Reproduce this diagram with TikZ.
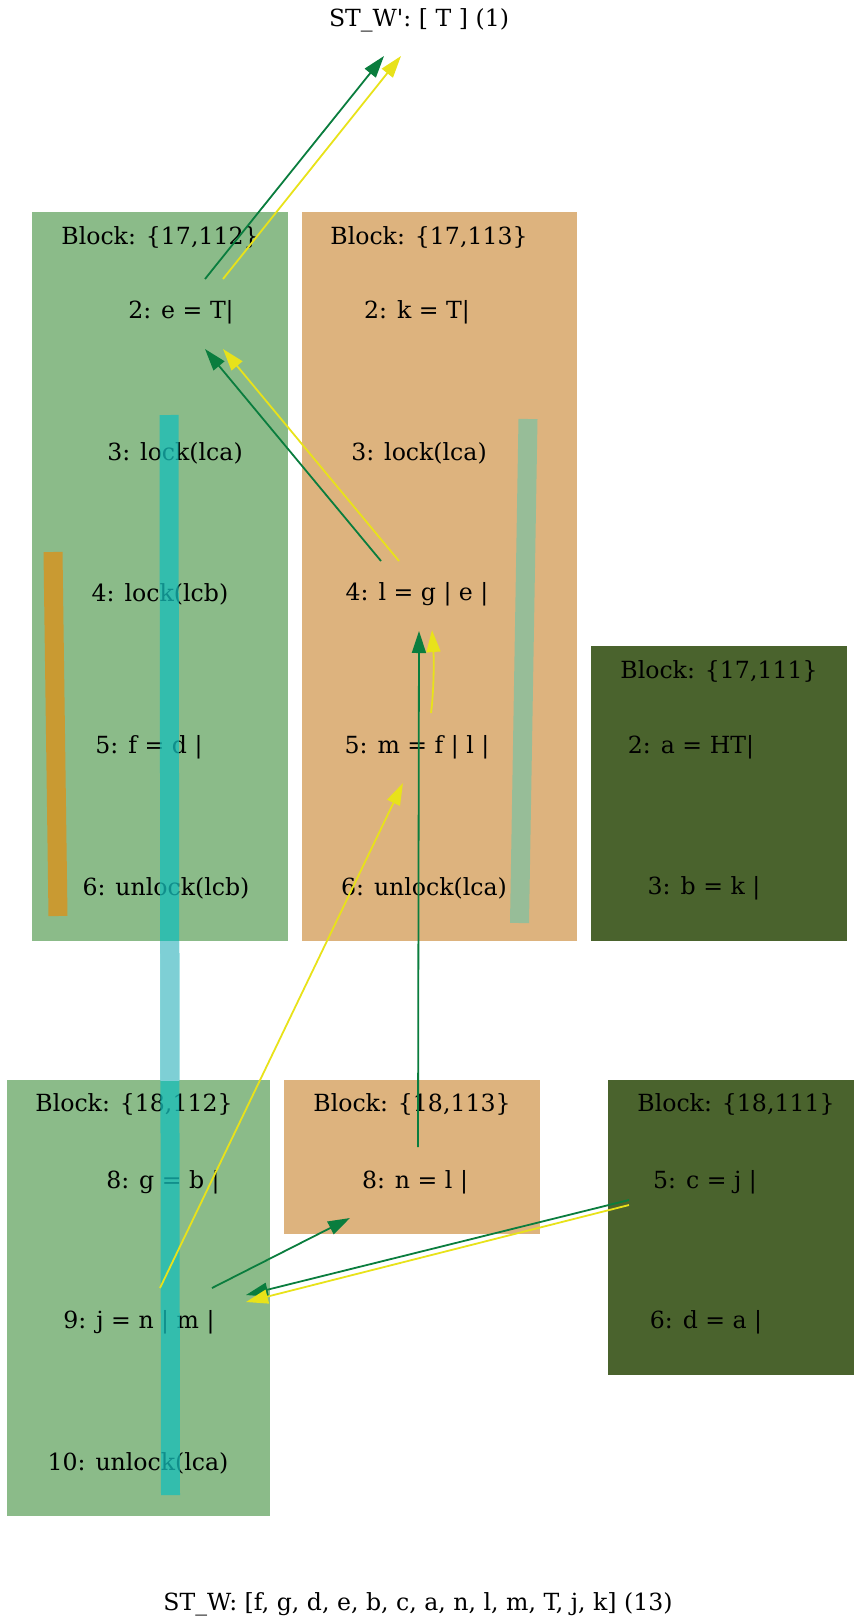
\documentclass[tikz,border=0pt]{standalone}
\usepackage{fontspec}
\setmainfont{DejaVu Serif}
\usetikzlibrary{arrows.meta}
\definecolor{blkgreen}{HTML}{8BBB89}
\definecolor{blkorange}{HTML}{DDB37E}
\definecolor{blkdark}{HTML}{4A632D}
\definecolor{edgegreen}{HTML}{0A7D3E}
\definecolor{edgeyellow}{HTML}{E8E21A}
\definecolor{barteal}{RGB}{22,190,186}
\definecolor{bartealout}{HTML}{7ECFD5}
\definecolor{barorange}{HTML}{C99A32}
\definecolor{barsage}{HTML}{97BD98}
\tikzset{
  lbl/.style={inner sep=0pt, font=\fontsize{23.6}{28}\selectfont, text=black},
  ge/.style={draw=edgegreen, line width=1.8pt, -{Triangle[length=22pt,width=14pt]}},
  ye/.style={draw=edgeyellow, line width=1.8pt, -{Triangle[length=22pt,width=14pt]}},
  lockbar/.style={line width=19pt, line cap=butt}
}
\begin{document}
\begin{tikzpicture}[x=1pt,y=-1pt]
\useasboundingbox (0,0) rectangle (854,1621);
% blocks
\fill[blkgreen]  (32,212) rectangle (288,941);
\fill[blkorange] (302,212) rectangle (577,941);
\fill[blkdark]   (591,646) rectangle (847,941);
\fill[blkgreen]  (6.5,1080) rectangle (270,1516);
\fill[blkorange] (284,1080) rectangle (540,1234);
\fill[blkdark]   (608,1080) rectangle (854,1375);
% texts
\node[lbl] (title) at (419,20) {ST\_W\textquotesingle: [ T ] (1)};
\node[lbl] (b17a) at (160,237) {Block: \{17,112\}};
\node[lbl] (b17b) at (429,237) {Block: \{17,113\}};
\node[lbl] (b17c) at (719,671) {Block: \{17,111\}};
\node[lbl] (e2) at (181,312) {2: e = T|};
\node[lbl] (k2) at (417,312) {2: k = T|};
\node[lbl] (l3a) at (175,453) {3: lock(lca)};
\node[lbl] (l3b) at (419,453) {3: lock(lca)};
\node[lbl] (l4a) at (160,594) {4: lock(lcb)};
\node[lbl] (l4b) at (417,594) {4: l = g | e |};
\node[lbl] (f5) at (149,747) {5: f = d |};
\node[lbl] (m5) at (417,747) {5: m = f | l |};
\node[lbl] (u6a) at (166,888) {6: unlock(lcb)};
\node[lbl] (u6b) at (424,888) {6: unlock(lca)};
\node[lbl] (a2) at (691,747) {2: a = HT|};
\node[lbl] (b3) at (704,888) {3: b = k |};
\node[lbl] (b18a) at (134,1104) {Block: \{18,112\}};
\node[lbl] (b18b) at (412,1104) {Block: \{18,113\}};
\node[lbl] (b18c) at (736,1104) {Block: \{18,111\}};
\node[lbl] (g8) at (163,1182) {8: g = b |};
\node[lbl] (n8) at (415,1182) {8: n = l |};
\node[lbl] (c5) at (705,1182) {5: c = j |};
\node[lbl] (j9) at (139,1322) {9: j = n | m |};
\node[lbl] (d6) at (706,1322) {6: d = a |};
\node[lbl] (u10) at (138,1463) {10: unlock(lca)};
\node[lbl] (stw) at (418,1604) {ST\_W: [f, g, d, e, b, c, a, n, l, m, T, j, k] (13)};
% lock bars
\draw[lockbar, barorange] (53,552) -- (58,916);
\draw[lockbar, barsage] (528,419) -- (519.5,923);
\draw[lockbar, barteal, opacity=0.75] (169,415) -- (170.5,1495);
\begin{scope}
\clip (0,941) rectangle (854,1080);
\draw[lockbar, bartealout] (169,415) -- (170.5,1495);
\end{scope}
% edge end points
\coordinate (e2tg) at (205,279);
\coordinate (e2ty) at (223,279);
\coordinate (titg) at (384,56);
\coordinate (tity) at (401,56);
\coordinate (l4tg) at (381,561);
\coordinate (l4ty) at (399,561);
\coordinate (e2bg) at (205,349);
\coordinate (e2by) at (223,349);
\coordinate (n8t) at (418,1147);
\coordinate (l4bg) at (419,631);
\coordinate (m5ty) at (431,713);
\coordinate (l4by) at (432,630);
\coordinate (j9ty) at (160,1288);
\coordinate (m5by) at (403,783);
\coordinate (j9tg) at (212,1288);
\coordinate (n8b) at (350,1218);
\coordinate (c5lg) at (629,1200);
\coordinate (c5ly) at (629,1205);
\coordinate (j9rg) at (246,1295);
\coordinate (j9ry) at (246,1302);
% edges
\draw[ge] (e2tg) -- (titg);
\draw[ye] (e2ty) -- (tity);
\draw[ge] (l4tg) -- (e2bg);
\draw[ye] (l4ty) -- (e2by);
\draw[ge] (n8t) -- (l4bg);
\draw[ye] (m5ty) .. controls (434,690) and (434,660) .. (l4by);
\draw[ye] (j9ty) -- (m5by);
\draw[ge] (j9tg) -- (n8b);
\draw[ge] (c5lg) -- (j9rg);
\draw[ye] (c5ly) -- (j9ry);
\end{tikzpicture}
\end{document}
